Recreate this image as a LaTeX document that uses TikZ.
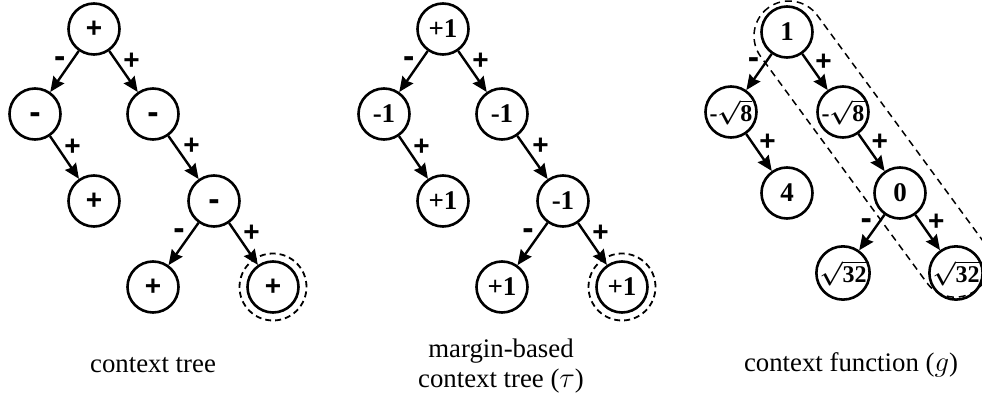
\documentclass[tikz,border=0pt]{standalone}
\usepackage{fontspec}
\setmainfont{Liberation Serif}
\setsansfont{Liberation Sans}
\usepackage{amsmath}
\usepackage{bm}
\usetikzlibrary{arrows, arrows.meta}
\usetikzlibrary{calc}

\begin{document}
\begin{tikzpicture}[x=0.5pt, y=-0.5pt,
    vert/.style={circle, draw, line width=1.3pt, inner sep=0pt, minimum size=25.5pt,
      font=\fontsize{13.5}{14}\selectfont\bfseries},
    vroot/.style={vert, font=\fontsize{12}{12}\selectfont\bfseries},
    vsans/.style={vert, font=\fontsize{14}{14}\selectfont\sffamily\bfseries},
    vminus/.style={vert, font=\fontsize{17}{17}\selectfont\sffamily\bfseries, text height=10pt, text depth=0pt},
    ring/.style={circle, draw, dashed, dash pattern=on 3pt off 2pt, line width=0.9pt,
      inner sep=0pt, minimum size=33.5pt},
    branch/.style={-{Stealth[length=7.5pt, width=6.5pt, inset=0.8pt]}, line width=1.2pt},
    elbl/.style={font=\fontsize{14}{14}\selectfont\sffamily\bfseries, inner sep=0pt, anchor=center},
    lblL/.style={elbl, font=\fontsize{17}{17}\selectfont\sffamily\bfseries, text height=10pt, text depth=0pt,
      pos=0.3, xshift=-5.25pt, yshift=3pt},
    lblR/.style={elbl, pos=0.4, xshift=5.5pt, yshift=3.2pt},
    fitline/.style={draw, dashed, dash pattern=on 3.5pt off 2.5pt, line width=0.75pt, rounded corners=17.5pt},
    caption/.style={font=\fontsize{13.4}{15}\selectfont, inner sep=0pt, align=center}]
  \useasboundingbox (0,0) rectangle (982,395);

  % context tree
  \node[vsans] (a1) at (94,29) {+};
  \node[vminus] (a2) at (35,114) {-};
  \node[vminus] (a3) at (153,114) {-};
  \node[vsans] (a4) at (94,201) {+};
  \node[vminus] (a5) at (214,201) {-};
  \node[vsans] (a6) at (153,287) {+};
  \node[vsans] (a7) at (273,287) {+};
  \node[ring] (a7r) at (a7) {};

  \draw[branch] (a1) -- node[lblL] {-} (a2);
  \draw[branch] (a1) -- node[lblR] {+} (a3);
  \draw[branch] (a2) -- node[lblR] {+} (a4);
  \draw[branch] (a3) -- node[lblR] {+} (a5);
  \draw[branch] (a5) -- node[lblL] {-} (a6);
  \draw[branch] (a5) -- node[lblR] {+} (a7);

  % margin-based context tree
  \node[vert] (b1) at (443,29) {+1};
  \node[vert] (b2) at (384,114) {-1};
  \node[vert] (b3) at (502,114) {-1};
  \node[vert] (b4) at (443,201) {+1};
  \node[vert] (b5) at (563,201) {-1};
  \node[vert] (b6) at (502,287) {+1};
  \node[vert] (b7) at (622,287) {+1};
  \node[ring] (b7r) at (b7) {};

  \draw[branch] (b1) -- node[lblL] {-} (b2);
  \draw[branch] (b1) -- node[lblR] {+} (b3);
  \draw[branch] (b2) -- node[lblR] {+} (b4);
  \draw[branch] (b3) -- node[lblR] {+} (b5);
  \draw[branch] (b5) -- node[lblL] {-} (b6);
  \draw[branch] (b5) -- node[lblR] {+} (b7);

  % context function
  \node[vert] (c1) at (787,32) {1};
  \node[vroot] (c2) at (731,112) {-{\boldmath$\sqrt{\textbf{8}}$}};
  \node[vroot] (c3) at (843,112) {-{\boldmath$\sqrt{\textbf{8}}$}};
  \node[vert] (c4) at (787,193) {4};
  \node[vert] (c5) at (900,193) {0};
  \node[vroot] (c6) at (843,273) {{\boldmath$\sqrt{\textbf{32}}$}};
  \node[vroot] (c7) at (956,273) {{\boldmath$\sqrt{\textbf{32}}$}};

  \draw[branch] (c1) -- node[lblL] {-} (c2);
  \draw[branch] (c1) -- node[lblR] {+} (c3);
  \draw[branch] (c2) -- node[lblR] {+} (c4);
  \draw[branch] (c3) -- node[lblR] {+} (c5);
  \draw[branch] (c5) -- node[lblL] {-} (c6);
  \draw[branch] (c5) -- node[lblR] {+} (c7);

  % path of the context
  \begin{scope}[shift={(789,36)}, rotate=-53.7]
    \draw[fitline] (-35,-35) rectangle (315.6,35);
  \end{scope}

  % captions
  \node[caption, anchor=base] (capa) at (153,373) {context tree};
  \node[caption] (capb) at (501,366) {margin-based\\context tree ($\tau$)};
  \node[caption, anchor=base] (capc) at (851,372) {context function ($g$)};
\end{tikzpicture}
\end{document}
